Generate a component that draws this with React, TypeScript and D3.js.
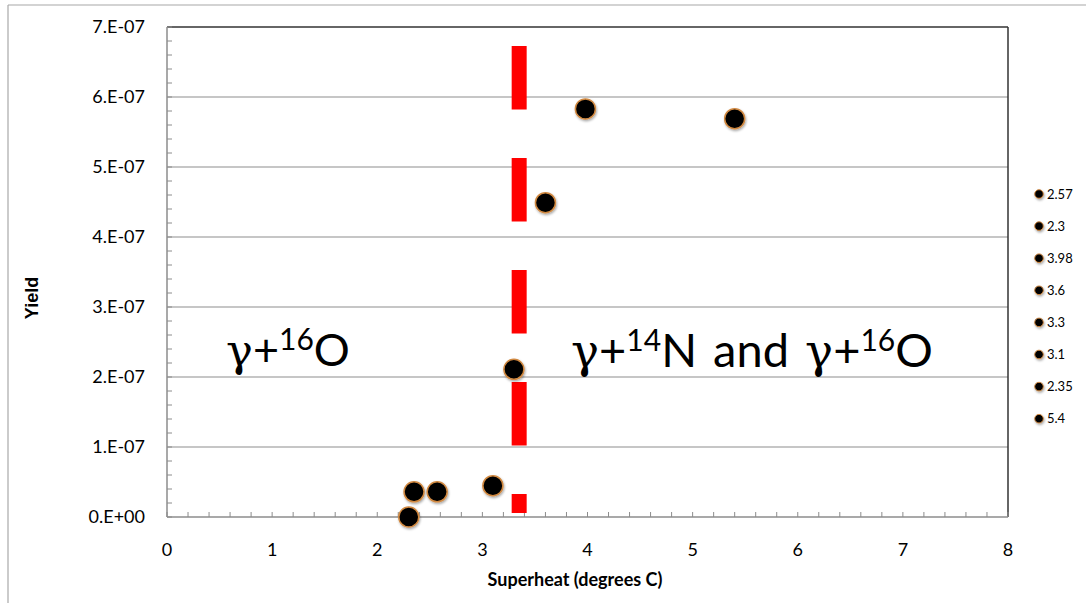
import React from "react";
import * as d3 from "d3";

const seriesNames = ["2.57", "2.3", "3.98", "3.6", "3.3", "3.1", "2.35", "5.4"];
const superheat = [2.57, 2.3, 3.98, 3.6, 3.3, 3.1, 2.35, 5.4];
const yieldVals = [3.6e-8, 0, 5.83e-7, 4.49e-7, 2.11e-7, 4.47e-8, 3.6e-8, 5.69e-7];

const xTicks = [0, 1, 2, 3, 4, 5, 6, 7, 8];
const yTicks = [0, 1e-7, 2e-7, 3e-7, 4e-7, 5e-7, 6e-7, 7e-7];
const yTickLabels = ["0.E+00", "1.E-07", "2.E-07", "3.E-07", "4.E-07", "5.E-07", "6.E-07", "7.E-07"];

const boundaryX = 3.35;
const boundaryY = [5.7e-9, 6.73e-7];

const W = 1086;
const H = 603;
const M = { left: 167, right: 1008, top: 27, bottom: 517 };

export default function App() {
  const x = d3.scaleLinear().domain([0, 8]).range([M.left, M.right]);
  const y = d3.scaleLinear().domain([0, 7e-7]).range([M.bottom, M.top]);
  const xMinor = d3.range(0, 8.0001, 0.2);
  const yMinor = d3.range(0, 7.0001e-7, 0.2e-7);
  const sans = "Lato, 'Open Sans', sans-serif";
  const serif = "'DejaVu Serif', 'Liberation Serif', serif";
  const markerStroke = "#d08840";

  return (
    <svg width={W} height={H} style={{ position: "absolute", left: 0, top: 0 }}>
      <defs>
        <filter id="sh" x="-50%" y="-50%" width="200%" height="200%">
          <feDropShadow dx="0.8" dy="1.5" stdDeviation="1.2" floodColor="#000" floodOpacity="0.35" />
        </filter>
      </defs>
      <rect x={0} y={0} width={W} height={H} fill="#fff" />
      {/* outer frame */}
      <line x1={8} x2={W} y1={5} y2={5} stroke="#a8a8a8" strokeWidth={1.2} />
      <line x1={8} x2={8} y1={5} y2={H} stroke="#a8a8a8" strokeWidth={1.2} />

      {/* gridlines */}
      {yTicks.slice(1, -1).map((t) => (
        <line key={"g" + t} x1={M.left} x2={M.right} y1={y(t)} y2={y(t)} stroke="#b3b3b3" strokeWidth={1.5} />
      ))}

      {/* plot frame top/right */}
      <line x1={M.left} x2={M.right} y1={M.top} y2={M.top} stroke="#333" strokeWidth={1.5} />
      <line x1={M.right} x2={M.right} y1={M.top} y2={M.bottom} stroke="#333" strokeWidth={1.5} />

      {/* axes */}
      <line x1={M.left} x2={M.left} y1={M.top} y2={M.bottom} stroke="#8c8c8c" strokeWidth={1.5} />
      <line x1={M.left} x2={M.right} y1={M.bottom} y2={M.bottom} stroke="#8c8c8c" strokeWidth={1.5} />
      {xMinor.map((t, i) => (
        <line key={"xm" + i} x1={x(t)} x2={x(t)} y1={M.bottom} y2={M.bottom - 5} stroke="#8c8c8c" strokeWidth={1} />
      ))}
      {yMinor.map((t, i) => (
        <line key={"ym" + i} x1={M.left} x2={M.left + 5} y1={y(t)} y2={y(t)} stroke="#8c8c8c" strokeWidth={1} />
      ))}

      {/* tick labels */}
      {yTicks.map((t, i) => (
        <text key={"yl" + i} x={145} y={y(t)} dy="0.36em" textAnchor="end" fontFamily={sans} fontSize={18} fill="#000">
          {yTickLabels[i]}
        </text>
      ))}
      {xTicks.map((t) => (
        <text key={"xl" + t} x={x(t)} y={556} textAnchor="middle" fontFamily={sans} fontSize={18} fill="#000">
          {t}
        </text>
      ))}

      {/* axis titles */}
      <text x={575} y={586} textAnchor="middle" fontFamily={sans} fontWeight="bold" fontSize={18} fill="#000">
        Superheat (degrees C)
      </text>
      <text
        transform={`translate(38,298) rotate(-90)`}
        textAnchor="middle"
        fontFamily="'Liberation Sans', Arial, sans-serif"
        fontWeight="bold"
        fontSize={18}
        fill="#000"
      >
        Yield
      </text>

      {/* boundary dashed red line */}
      <line
        x1={x(boundaryX)}
        x2={x(boundaryX)}
        y1={y(boundaryY[1])}
        y2={y(boundaryY[0])}
        stroke="#ff0000"
        strokeWidth={15}
        strokeDasharray="63.5 48.5"
      />

      {/* annotations */}
      <text x={226} y={366} fontFamily={sans} fontSize={45} fill="#000">
        <tspan fontFamily={serif}>γ</tspan>
        <tspan>+</tspan>
        <tspan fontSize={30} dy={-16}>16</tspan>
        <tspan dy={16}>O</tspan>
      </text>
      <text x={571} y={367} fontFamily={sans} fontSize={47} fill="#000">
        <tspan fontFamily={serif}>γ</tspan>
        <tspan>+</tspan>
        <tspan fontSize={30} dy={-16}>14</tspan>
        <tspan dy={16} wordSpacing={4}>N and </tspan>
        <tspan fontFamily={serif}>γ</tspan>
        <tspan>+</tspan>
        <tspan fontSize={30} dy={-16}>16</tspan>
        <tspan dy={16}>O</tspan>
      </text>

      {/* points */}
      {superheat.map((v, i) => (
        <circle
          key={"p" + i}
          cx={x(v)}
          cy={y(yieldVals[i])}
          r={10}
          fill="#000"
          stroke={markerStroke}
          strokeWidth={1.5}
          filter="url(#sh)"
        />
      ))}

      {/* legend */}
      {seriesNames.map((n, i) => {
        const ly = 194 + i * 32.1;
        return (
          <g key={"lg" + i}>
            <circle cx={1039} cy={ly} r={4.3} fill="#000" stroke={markerStroke} strokeWidth={1} filter="url(#sh)" />
            <text x={1047} y={ly} dy="0.36em" fontFamily={sans} fontSize={13} fill="#000">
              {n}
            </text>
          </g>
        );
      })}
    </svg>
  );
}
